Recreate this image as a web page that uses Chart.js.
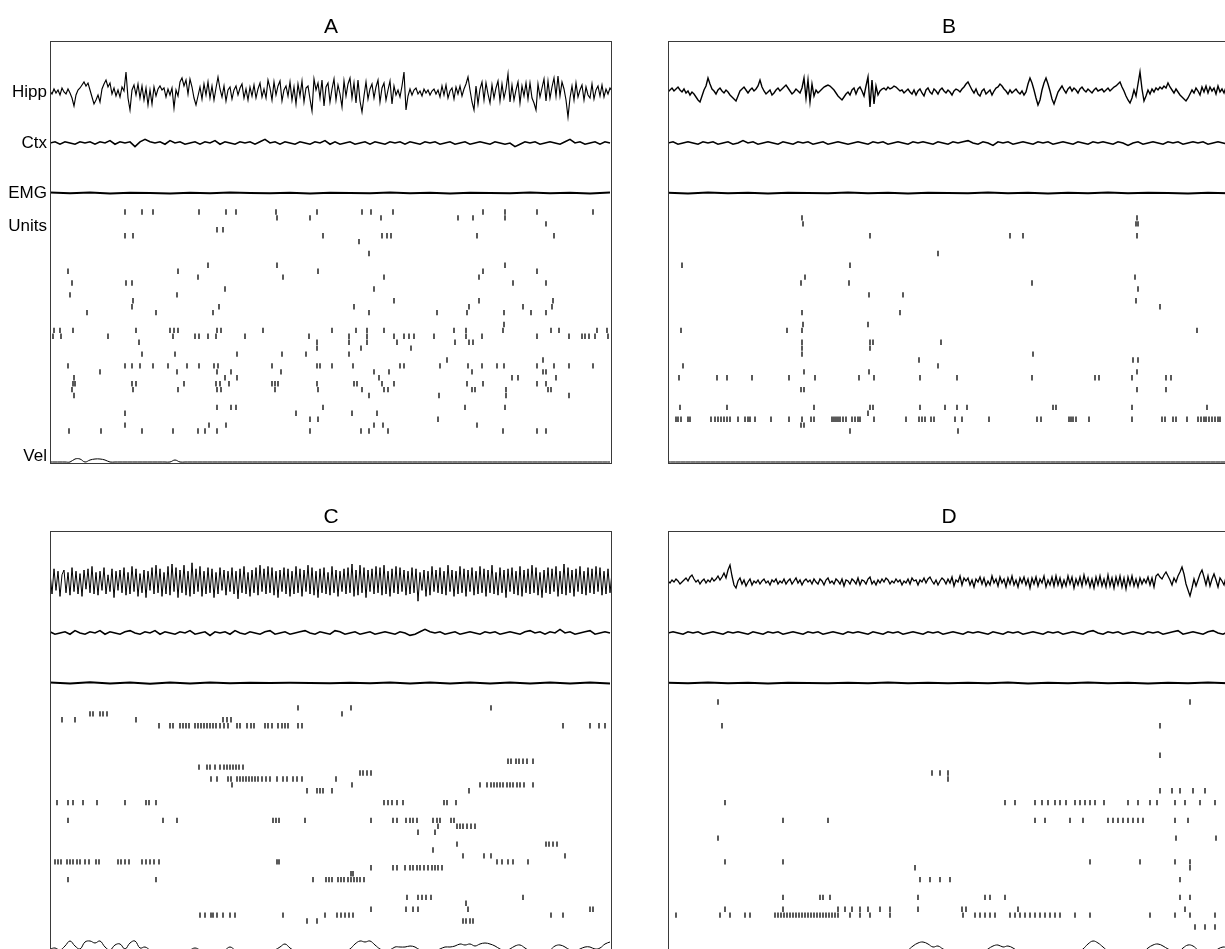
<!DOCTYPE html>
<html>
<head>
<meta charset="utf-8">
<script src="https://cdn.jsdelivr.net/npm/chart.js@4/dist/chart.umd.min.js"></script>
<style>
  html, body { margin: 0; background: #fff; }
  body { width: 1225px; height: 949px; position: relative; overflow: hidden; }
  canvas { position: absolute; }
</style>
</head>
<body>
<canvas id="panelA" width="613" height="465" style="left:0;top:0"></canvas>
<canvas id="panelB" width="613" height="465" style="left:618px;top:0"></canvas>
<canvas id="panelC" width="613" height="465" style="left:0;top:490px"></canvas>
<canvas id="panelD" width="613" height="465" style="left:618px;top:490px"></canvas>
<script>
// sampling of each channel inside the 5.62 s window (ms)
const WINDOW_MS = 5620;
const HIPP_STEP = 20;
const CTX_STEP = 50;
const EMG_STEP = 200;
const VEL_STEP = 50;

const channelNames = ['Hipp', 'Ctx', 'EMG', 'Units', 'Vel'];

// ---------- A ----------
const hippA = [
  1, -2, 3, -1, 2, -3, 4, 0, -2, 3, -1, -6, -14, -3, 2,
  4, 7, 10, 6, 9, 2, -5, -12, -8, -3, -10, 3, 8, 12, 5,
  9, -2, 4, -4, 2, -5, 5, 1, 20, -6, -18, 2, 7, -3, 8,
  -6, 6, -8, 4, -13, 2, -12, 5, -4, 3, 6, 2, 4, -5, 3,
  -3, 4, -16, 2, -4, 10, 14, 6, 12, -2, 13, 5, -6, -13, -4,
  5, -7, 8, -3, 10, -6, 6, -8, 4, 15, 3, -5, 6, -9, 2,
  5, -7, 2, 6, -3, 4, 8, -6, 3, -8, 5, -4, 7, -6, 3,
  9, -5, 3, -6, 12, 4, -8, 10, -3, 6, 11, -9, 2, 6, -4,
  10, -8, 5, -12, 8, -4, 11, -10, 4, 6, -7, -19, 13, 2, 9,
  -6, 12, -14, 5, 9, -10, 3, 13, -8, 7, -2, -15, 11, -4, 8,
  14, -6, 9, -11, 12, -9, -20, -4, 10, -7, 3, 8, -6, 5, 12,
  -10, 4, 9, -8, 2, 11, -12, 6, -3, 2, -5, 6, 20, -18, -4,
  3, -3, 2, 4, -2, 1, -4, 3, -1, 2, -3, 1, 3, -2, 2,
  -5, 6, -3, 7, -6, 1, 4, -7, 5, -2, 6, -4, 3, 8, 15,
  2, -10, -18, 6, -12, 3, 10, -8, 9, -2, -11, 7, -6, 4, 11,
  -9, 8, -6, 3, 18, -10, 7, -8, 2, 10, -11, 6, -4, 9, -7,
  9, -6, -11, -18, 8, -5, 4, 13, -9, 11, -6, 5, 14, -4, 16,
  -4, 10, 3, -8, -25, -6, 6, -8, 9, -5, 2, 7, -8, 5, -3,
  -6, 8, -7, 2, 6, -4, 7, -5, 3, -2, 4, 1
];
const ctxA = [
  0, 1, -1, 1, 0, -1, 1, 0, 1, -1,
  1, 0, 2, -1, 1, 0, 1, -3, 1, 3,
  1, 0, 1, -1, 2, 0, 1, -1, 0, 1,
  -1, 1, 0, 2, -1, 1, 0, -1, 1, 0,
  1, -1, 1, 3, 0, 1, -1, 1, 0, -1,
  1, 0, -1, 1, 0, 2, -1, 1, -1, 0,
  1, -1, 0, 1, -1, 1, 0, -1, 1, 0,
  1, -1, 1, 0, -1, 1, 0, 1, -1, 0,
  1, -1, 0, 1, -1, 0, 1, 0, -1, 1,
  0, -1, 0, -3, -1, 1, 0, 1, -1, 0,
  1, 0, -1, 1, 3, 0, 1, -1, 0, 1,
  -1, 1, 0
];
const emgA = [0.4, -0.3, 0.5, -0.4, 0.3, 0, -0.4, 0.3, -0.2, 0.4, 0, -0.3, 0.2, -0.4, 0.3,
  0, -0.3, 0.4, -0.2, 0.3, -0.4, 0.2, 0, -0.3, 0.4, -0.2, 0.3, -0.4, 0.5];
const velA = [
  0, 0, 0, 0, 0, 3, 3, 0, 2, 3, 3, 2, 0, 0, 0, 0, 0, 0, 0, 0,
  0, 0, 0, 0, 0, 2, 0, 0, 0, 0, 0, 0, 0, 0, 0, 0, 0, 0, 0, 0,
  0, 0, 0, 0, 0, 0, 0, 0, 0, 0, 0, 0, 0, 0, 0, 0, 0, 0, 0, 0,
  0, 0, 0, 0, 0, 0, 0, 0, 0, 0, 0, 0, 0, 0, 0, 0, 0, 0, 0, 0,
  0, 0, 0, 0, 0, 0, 0, 0, 0, 0, 0, 0, 0, 0, 0, 0, 0, 0, 0, 0,
  0, 0, 0, 0, 0, 0, 0, 0, 0, 0, 0, 0, 0
];
// spike times (ms) for each unit, top unit first
const unitsA = [
  [750, 920, 1030, 1490, 1760, 1860, 2260, 2670, 3120, 3210, 3430, 4330, 4550, 4870, 5430],
  [2270, 2600, 3310, 4080, 4230, 4550],
  [4960],
  [1670, 1730],
  [750, 830, 2730, 3320, 3370, 3410, 4270, 5040],
  [3090],
  [],
  [3190],
  [],
  [1580, 2270, 4550],
  [180, 1280, 2680, 4330, 4870],
  [1480, 2330, 3340, 4290],
  [220, 760, 820, 4630, 4960],
  [1750, 3240],
  [200, 1270],
  [830, 3440, 4290, 5030],
  [820, 1690, 3040, 4190, 4730, 5020],
  [370, 1060, 1630, 3190, 3870, 4170, 4540, 4810, 4960],
  [],
  [4540],
  [40, 100, 230, 860, 1200, 1240, 1280, 1670, 1710, 2130, 2820, 3060, 3170, 3340, 4040, 4160, 4530, 5010, 5090, 5470, 5570],
  [30, 110, 580, 1230, 1450, 1490, 1580, 1660, 1950, 2590, 2990, 3170, 3440, 3540, 3590, 3640, 3840, 4160, 4320, 4870, 5190, 5320, 5350, 5390, 5450, 5580],
  [890, 2670, 2990, 3170, 3470, 4050, 4190, 4230],
  [2670, 3110, 3610],
  [920, 1250, 1870, 2320, 2560, 2990],
  [3970, 4930],
  [180, 750, 820, 900, 1030, 1180, 1370, 1490, 1640, 1680, 2220, 2670, 2700, 2820, 3030, 3500, 3540, 3900, 4180, 4320, 4470, 4540, 4870, 5040, 5190, 5430],
  [500, 1270, 1670, 1810, 2310, 3240, 3390, 4220, 4930, 4960],
  [240, 1750, 1870, 3290, 4620, 4680, 5060],
  [230, 250, 820, 860, 1340, 1660, 1700, 1790, 2220, 2250, 2280, 2670, 3040, 3070, 3320, 3440, 4170, 4330, 4870, 4960],
  [220, 830, 1280, 1670, 1710, 2250, 2680, 3120, 3340, 3380, 4220, 4250, 4560, 4980, 5010],
  [240, 3190, 3890, 4560, 5190],
  [],
  [1670, 1810, 1860, 2730, 4150, 4550],
  [750, 2460, 3020, 3270],
  [2600, 2680, 3880],
  [750, 1590, 1760, 3240, 3330, 4270],
  [190, 510, 920, 1230, 1480, 1550, 1670, 2600, 3110, 3190, 3380, 4530, 4870, 4960]
];

// ---------- B ----------
const hippB = [
  0, 2, 4, 1, 3, 5, 2, 0, 3, -1, 1, -3, 0, -2, -5,
  -8, -10, -4, 2, 6, 14, 8, 3, 1, -2, 2, 4, 1, -1, 2,
  0, -3, -5, -7, -9, -4, 1, 3, 5, 2, -1, 2, 4, 1, 3,
  6, 12, 5, 1, -2, 0, 2, -3, -1, 2, 4, 1, 3, 5, 7,
  4, 1, -2, 0, 3, 1, -1, 4, 14, -6, 12, -10, 8, -4, 2,
  -1, 1, 3, 5, 6, 7, 6, 4, 2, -1, -4, -6, -8, -5, -2,
  0, -3, 2, 4, -2, 3, 5, 1, -4, 6, 15, -15, 12, -12, 6,
  -3, 1, 3, 4, 2, 5, 3, 4, 6, 5, 3, 1, 2, -1, 1,
  3, 0, -2, 2, -3, 1, 3, -1, -4, 2, 4, 0, -2, 3, 1,
  -2, 2, 4, 1, -1, 2, 0, -3, 1, 3, 2, 0, 3, 5, 8,
  10, 6, 2, -1, 3, -2, -4, 1, 3, -2, 0, 2, -3, 1, 4,
  5, 8, 6, 3, 1, -2, 2, -1, 1, 3, 0, -2, 1, -3, 0,
  8, 14, 9, 2, -6, -13, -8, 2, 9, 14, 8, 1, -7, -12, -6,
  0, 3, 6, 2, -1, 3, 5, 1, 4, 2, -1, 3, 5, 2, 0,
  3, 1, -1, 2, 4, 1, 2, 3, 0, 2, 4, 1, 3, 5, 6,
  8, 10, 5, 1, -4, -8, -11, -6, 2, -4, 8, 20, 3, -9, -4,
  2, -2, 3, 0, 4, 2, 5, 3, 6, 4, 9, 5, 2, -1, 3,
  0, -3, -5, -7, -9, -6, -2, 2, -1, 4, 1, -3, 5, 0, 6,
  -1, 5, 1, 4, -2, 6, 0, 3, -1, 5, 1, 2
];
const ctxB = [
  0, 1, -1, 0, 1, 0, -1, 1, 0, 1,
  -1, 0, 1, -1, 0, 2, 0, 1, -1, 0,
  1, 0, -1, 1, 0, -1, 1, 0, 1, -1,
  0, 1, -1, 0, 1, 0, -1, 0, 1, 0,
  -1, 1, 0, 1, -1, 0, 1, 0, -1, 1,
  0, 1, 0, -1, 1, 0, -1, 1, 0, 1,
  2, 0, -1, 1, 0, -2, 1, 0, 1, -1,
  0, 1, 0, -1, 1, 0, 1, -1, 0, 1,
  0, -1, 1, 0, -1, 1, 0, 1, 0, -1,
  1, 0, -2, 0, 1, -1, 0, 1, 0, -1,
  1, 0, 1, -1, 0, 1, 0, 1, -1, 0,
  1, 0, -1
];
const emgB = [0.3, -0.4, 0.4, -0.3, 0.2, -0.4, 0.3, 0, -0.3, 0.4, -0.2, 0.3, -0.4, 0.3, 0,
  -0.3, 0.4, -0.3, 0.2, -0.4, 0.3, -0.2, 0.4, -0.3, 0.2, 0, -0.4, 0.3, -0.2];
const velB = [
  0, 0, 0, 0, 0, 0, 0, 0, 0, 0, 0, 0, 0, 0, 0, 0, 0, 0, 0, 0,
  0, 0, 0, 0, 0, 0, 0, 0, 0, 0, 0, 0, 0, 0, 0, 0, 0, 0, 0, 0,
  0, 0, 0, 0, 0, 0, 0, 0, 0, 0, 0, 0, 0, 0, 0, 0, 0, 0, 0, 0,
  0, 0, 0, 0, 0, 0, 0, 0, 0, 0, 0, 0, 0, 0, 0, 0, 0, 0, 0, 0,
  0, 0, 0, 0, 0, 0, 0, 0, 0, 0, 0, 0, 0, 0, 0, 0, 0, 0, 0, 0,
  0, 0, 0, 0, 0, 0, 0, 0, 0, 0, 0, 0, 0
];
const unitsB = [
  [],
  [1340, 4690],
  [1350, 4680, 4700],
  [],
  [2020, 3420, 3550, 4690],
  [],
  [],
  [2700],
  [],
  [140, 1820],
  [],
  [1370, 4670],
  [1330, 1810, 3640],
  [4700],
  [2010, 2350],
  [4680],
  [4920],
  [1340, 2320],
  [],
  [1350, 2000],
  [130, 1190, 1340, 5290],
  [],
  [1340, 2020, 2050, 2730],
  [1340, 2020],
  [1340, 3650],
  [2510, 4650, 4700],
  [150, 2700],
  [1360, 2010, 4690],
  [110, 490, 590, 840, 1210, 1470, 1910, 2060, 2520, 2890, 3640, 4270, 4310, 4640, 4980, 5030],
  [],
  [1330, 1360, 4690, 4980],
  [],
  [],
  [120, 590, 1460, 2020, 2050, 2520, 2770, 2890, 2990, 3850, 3880, 4640, 5390],
  [2000],
  [80, 100, 130, 200, 220, 430, 470, 500, 530, 560, 590, 620, 700, 770, 800, 820, 870, 1030, 1210, 1340,
   1430, 1460, 1640, 1660, 1680, 1700, 1720, 1750, 1780, 1840, 1870, 1900, 1920, 2060, 2380, 2510, 2540,
   2570, 2630, 2660, 2870, 2940, 3210, 3690, 3730, 4010, 4030, 4050, 4080, 4210, 4640, 4940, 4970, 5050,
   5080, 5190, 5300, 5330, 5360, 5380, 5410, 5440, 5470, 5500, 5520],
  [1330, 1360],
  [1820, 2900]
];

// ---------- C ----------
const hippC = [
  8, -10, 11, -7, 9, -12, 6, 10, -9, 8, -11, 12, -8, 9, -10,
  7, -12, 10, -6, 11, -9, 13, -10, 8, -11, 9, -7, 12, -10, 6,
  -8, 11, -13, 9, -7, 10, -9, 12, -11, 8, -10, 13, -8, 11, -12,
  7, -9, 10, -13, 9, -7, 12, -10, 14, -9, 11, -12, 8, -10, 13,
  -11, 15, -8, 12, -13, 10, -9, 14, -11, 9, -12, 16, -10, 11, -8,
  13, -12, 9, -10, 12, -9, 11, -13, 8, -10, 12, -7, 10, -11, 9,
  -8, 12, -10, 9, -14, 11, -9, 13, -10, 8, -12, 10, -9, 12, -11,
  14, -8, 11, -10, 13, -9, 12, -11, 9, -13, 10, -8, 12, -10, 11,
  -12, 9, -10, 13, -9, 11, -12, 10, -8, 14, -10, 12, -11, 9, -13,
  11, -9, 12, -10, 8, -11, 13, -9, 10, -12, 9, -8, 11, -10, 12,
  -9, 15, -12, 10, -11, 14, -9, 12, -13, 10, -8, 11, -10, 13, -9,
  12, -11, 14, -10, 9, -12, 11, -9, 13, -10, 12, -8, 10, -11, 9,
  -10, 12, -9, 11, -16, 8, -7, 10, -12, 9, -11, 13, -8, 10, -9,
  12, -10, 9, -11, 14, -8, 10, -12, 9, -10, 13, -9, 11, -12, 10,
  -8, 12, -11, 9, -10, 13, -9, 11, -12, 10, -9, 14, -10, 8, -11,
  12, -9, 10, -13, 11, -8, 12, -10, 9, -11, 13, -12, 10, -9, 11,
  -10, 14, -9, 12, -11, 8, -13, 10, -9, 12, -10, 11, -8, 13, -12,
  9, -10, 15, -11, 12, -9, 10, -12, 11, -8, 13, -10, 9, -11, 12,
  -9, 11, -10, 13, -8, 12, -11, 9, -10, 11, -9, 8
];
const ctxC = [
  1, -1, 0, 1, -1, 2, 0, -1, 1, 0,
  2, -1, 1, 0, -1, 1, 2, 0, -1, 1,
  0, 2, -1, 1, 0, -1, 1, 0, 2, -1,
  0, 1, -2, 1, 0, 1, -1, 2, 0, -1,
  1, 0, -1, 1, 2, -1, 0, 1, -1, 0,
  1, 2, 0, -1, 1, 0, -1, 2, 1, -1,
  0, 1, -1, 0, 1, -1, 0, 1, 0, -1,
  1, 0, -2, -1, 1, 3, 1, 0, 1, -1,
  0, 1, -1, 0, 1, 0, -1, 1, 0, 1,
  -1, 0, 1, 0, -1, 1, 2, 0, 1, -1,
  1, 0, 3, 0, 1, -1, 0, 1, 2, -1,
  0, 1, 0
];
const emgC = [0.6, -0.5, 0.7, -0.6, 0.5, -0.7, 0.6, -0.4, 0.5, -0.3, 0.3, 0, 0.2, 0, -0.2,
  0.3, -0.3, 0.4, -0.4, 0.5, -0.4, 0.5, -0.5, 0.6, -0.5, 0.6, -0.4, 0.5, -0.5];
const velC = [
  3, 4, 2, 6, 11, 6, 3, 10, 11, 9,
  11, 5, 2, 7, 8, 3, 9, 11, 4, 5,
  2, 0, 0, 0, 0, 0, 0, 0, 2, 4,
  2, 0, 0, 0, 0, 2, 5, 2, 0, 0,
  0, 0, 0, 0, 0, 2, 5, 8, 4, 1,
  0, 0, 0, 0, 0, 0, 0, 0, 0, 1,
  3, 8, 11, 10, 11, 7, 3, 1, 2, 5,
  5, 5, 6, 5, 2, 1, 1, 1, 3, 5,
  5, 6, 8, 7, 8, 6, 8, 9, 8, 6,
  3, 1, 3, 6, 7, 4, 1, 1, 1, 1,
  2, 6, 7, 5, 2, 1, 3, 5, 5, 3,
  4, 8, 10
];
const unitsC = [
  [],
  [2480, 3010, 4410],
  [400, 430, 500, 530, 570, 2920],
  [120, 250, 860, 1730, 1770, 1810],
  [1090, 1200, 1230, 1300, 1330, 1360, 1390, 1450, 1480, 1510, 1540, 1570, 1600, 1630, 1660, 1700, 1740, 1780,
   1870, 1900, 1970, 2010, 2040, 2150, 2180, 2220, 2280, 2320, 2350, 2380, 2480, 2520, 5130, 5400, 5490, 5550],
  [], [], [], [], [],
  [4580, 4610, 4660, 4690, 4730, 4770, 4830],
  [1490, 1570, 1600, 1650, 1700, 1740, 1770, 1800, 1830, 1860, 1890, 1930],
  [3100, 3130, 3170, 3210],
  [1610, 1670, 1780, 1810, 1870, 1900, 1930, 1960, 1990, 2020, 2050, 2080, 2120, 2160, 2200, 2270, 2330, 2370, 2430, 2470, 2520, 2860],
  [1820, 3020, 4300, 4370, 4410, 4440, 4470, 4500, 4530, 4570, 4600, 4630, 4670, 4700, 4740, 4830],
  [2570, 2670, 2700, 2730, 2820, 4190],
  [],
  [70, 180, 230, 330, 470, 750, 960, 990, 1060, 3340, 3380, 3420, 3470, 3530, 3940, 3970, 4060],
  [], [],
  [180, 1130, 1270, 2230, 2260, 2290, 2550, 3210, 3430, 3470, 3560, 3600, 3630, 3670, 3830, 3870, 3900, 4010, 4040],
  [3880, 4070, 4100, 4130, 4170, 4210, 4250],
  [3680, 3850],
  [],
  [4070, 4960, 4990, 5030, 5070],
  [3830],
  [4130, 4340, 4410, 5150],
  [50, 80, 110, 170, 200, 230, 270, 300, 350, 390, 460, 490, 680, 710, 750, 790, 920, 960, 1000, 1040, 1090,
   2270, 2290, 4470, 4520, 4580, 4630, 4780],
  [3210, 3430, 3470, 3550, 3600, 3630, 3670, 3700, 3740, 3780, 3820, 3850, 3880, 3920],
  [3010, 3030],
  [180, 1060, 2630, 2760, 2790, 2820, 2880, 2910, 2940, 2980, 3010, 3040, 3070, 3100, 3140],
  [], [],
  [3570, 3680, 3720, 3760, 3810, 4730],
  [4160],
  [3210, 3560, 3630, 3680, 4180, 5400, 5430],
  [1500, 1550, 1610, 1630, 1670, 1730, 1800, 1850, 2330, 2750, 2870, 2910, 2950, 2990, 3030, 5010, 5130],
  [2570, 2670, 4130, 4160, 4200, 4230]
];

// ---------- D ----------
const hippD = [
  1, -1, 2, 0, 3, 1, -2, 0, 2, 4, 1, 5, 7, 3, 0,
  2, -2, 1, 3, -1, 2, 0, 4, 1, 3, 6, 2, 5, 9, 4,
  12, 17, 6, -3, -6, 1, 4, -2, 2, -4, 0, 3, -3, 1, -1,
  2, -2, 1, 3, -1, 1, -3, 2, 0, 3, -2, 1, -1, 3, -2,
  1, 3, -2, 1, 4, -1, 2, -3, 1, 3, 0, 2, -2, 3, 0,
  -2, 3, 1, -3, 2, 4, -1, 1, -2, 3, 1, -2, 3, -4, 2,
  1, -2, 3, 1, -2, 4, -3, 2, 1, -2, 3, 5, -2, 1, -3,
  2, -1, 3, 0, 4, 2, -2, 1, -1, 3, 0, 2, -3, 1, -1,
  3, -2, 4, 1, 2, -3, 2, 0, 4, -1, 3, 5, 1, -2, 2,
  -3, 1, 4, 2, -2, 3, -1, 5, -4, 2, 0, 6, -3, 4, 1,
  4, -3, 2, -5, 3, 0, 5, -2, 4, -4, 1, -3, 6, -1, 3,
  -4, 5, -1, 3, -5, 4, -2, 6, -3, 2, -5, 4, -1, 5, -3,
  3, -6, 4, -2, 5, -4, 3, -1, 6, -5, 2, -3, 5, -4, 6,
  -3, 4, -5, 2, -4, 6, -2, 5, -6, 3, -3, 5, -4, 7, -2,
  4, -5, 3, -6, 5, -3, 6, -4, 3, -5, 7, -4, 4, -6, 5,
  -3, 6, -5, 4, -7, 5, -3, 6, -4, 3, -5, 4, -2, 3, -1,
  5, -3, 4, -5, 6, 8, 5, 3, 7, 10, 6, 2, -3, 4, 0,
  6, 10, 15, 8, -2, -8, -14, -6, 3, -4, 2, 8, 12, 5, -3,
  6, -4, 3, 8, 2, -5, 4, 1, -3, 5, 2, 0
];
const ctxD = [
  0, 1, 0, -1, 1, 0, 1, -1, 0, 1,
  0, -1, 1, 0, 1, 0, -1, 1, 0, -1,
  1, 0, 1, -1, 0, 1, 0, -1, 1, 0,
  1, -1, 0, 1, 0, -1, 1, 0, 1, 0,
  -1, 1, 0, -1, 1, 0, 1, -1, 0, 1,
  0, -1, 1, 0, 1, -1, 0, 1, 0, -1,
  1, 0, 1, 0, -1, 1, 0, -1, 1, 0,
  1, -1, 0, 1, 0, -1, 1, 0, 1, -1,
  0, 1, 0, -1, 1, 2, 0, -1, 1, 0,
  1, -1, 0, 1, 0, -1, 1, 0, 1, -1,
  0, 1, 2, -1, 0, 1, 0, -1, 1, 2,
  0, -1, 1
];
const emgD = [0.3, -0.3, 0.4, -0.2, 0.3, -0.4, 0.2, 0, -0.3, 0.3, -0.2, 0.4, -0.3, 0.2, -0.3,
  0.3, -0.2, 0.4, -0.4, 0.3, -0.3, 0.4, -0.2, 0.3, -0.4, 0.3, -0.3, 0.4, -0.3];
const velD = [
  0, 0, 0, 0, 0, 0, 0, 0, 0, 0, 0, 0, 0, 0, 0, 0, 0, 0, 0, 0,
  0, 0, 0, 0, 0, 0, 0, 0, 0, 0, 0, 0, 0, 0, 0, 0, 0, 0, 0, 0,
  0, 0, 0, 0, 0, 0, 0, 0,
  2, 6, 9, 10, 8, 5, 6, 3, 1, 0, 0, 0,
  0, 0, 0, 0, 3, 6, 7, 5, 6, 4,
  1, 0, 0, 0, 0, 0, 0, 0, 0, 0,
  0, 0, 0, 3, 8, 11, 9, 5, 1, 0,
  0, 0, 0, 0, 0, 0, 4, 7, 8, 6,
  3, 1, 0, 4, 7, 6, 2, 0, 0, 0,
  3, 5, 4
];
const unitsD = [
  [500, 5220],
  [], [], [],
  [540, 4920],
  [], [], [], [],
  [4920],
  [], [],
  [2640, 2720, 2800],
  [2800],
  [],
  [4920, 5040, 5120, 5250, 5370],
  [],
  [570, 3370, 3470, 3670, 3740, 3800, 3870, 3920, 3980, 4070, 4120, 4170, 4220, 4270, 4360, 4600, 4700, 4820, 4890, 5070, 5170, 5320, 5470],
  [], [],
  [1150, 1600, 3670, 3770, 4020, 4150, 4400, 4450, 4500, 4550, 4600, 4650, 4700, 4750, 5070, 5200],
  [], [],
  [500, 5080, 5480],
  [], [], [],
  [570, 1150, 4220, 4720, 5070, 5220],
  [2470, 5220],
  [],
  [2520, 2620, 2720, 2820, 5120],
  [], [],
  [1150, 1520, 1550, 1620, 2500, 3170, 3220, 3370, 5120, 5220],
  [],
  [570, 1150, 1700, 1770, 1840, 1920, 2000, 2120, 2220, 2500, 2940, 2980, 3500, 5170],
  [80, 520, 620, 770, 820, 1070, 1100, 1130, 1160, 1190, 1220, 1250, 1280, 1310, 1340, 1370, 1400, 1430, 1460,
   1490, 1520, 1550, 1580, 1610, 1640, 1670, 1700, 1820, 1920, 2020, 2220, 2950, 3070, 3120, 3170, 3220, 3270,
   3420, 3470, 3520, 3570, 3620, 3670, 3720, 3770, 3820, 3870, 3920, 4070, 4220, 4820, 5070, 5220, 5470],
  [],
  [5270, 5370, 5470]
];

// vertical placement of the stacked channels (y axis runs top-down, 0..423)
const Y_MAX = 423;
const HIPP_BASE = 51;
const CTX_BASE = 102;
const EMG_BASE = 152;
const UNIT_TOP = 171;
const UNIT_GAP = 5.92;
const VEL_BASE = 421;
const LABEL_POS = [51, 102, 152, 185, 415];

const FONT = '"Liberation Sans", Arial, Helvetica, sans-serif';

function trace(values, step, base, gain, width, tension) {
  return {
    data: values.map((v, i) => ({ x: i * step, y: base - v * gain })),
    borderColor: '#000',
    borderWidth: width,
    pointRadius: 0,
    tension: tension || 0,
    fill: false
  };
}

function raster(rows) {
  const pts = [];
  rows.forEach((times, k) => {
    times.forEach(t => pts.push({ x: t, y: UNIT_TOP + k * UNIT_GAP }));
  });
  return {
    data: pts,
    showLine: false,
    pointStyle: 'line',
    pointRotation: 90,
    pointRadius: 2.7,
    pointBorderWidth: 1.3,
    pointBorderColor: '#000',
    borderColor: '#000'
  };
}

// box around each panel's plotting area
const framePlugin = {
  id: 'frame',
  afterDatasetsDraw(chart) {
    const { ctx, chartArea: a } = chart;
    ctx.save();
    ctx.strokeStyle = '#3a3a3a';
    ctx.lineWidth = 1;
    ctx.strokeRect(a.left + 0.5, a.top + 0.5, a.right - a.left - 1, a.bottom - a.top - 1);
    ctx.restore();
  }
};

function buildPanel(id, title, hipp, hippGain, hippWidth, ctxTrace, emg, vel, units, showLabels) {
  return new Chart(document.getElementById(id), {
    type: 'line',
    data: {
      datasets: [
        raster(units),
        trace(hipp, HIPP_STEP, HIPP_BASE, hippGain, hippWidth),
        trace(ctxTrace, CTX_STEP, CTX_BASE, 1.2, 1.6),
        trace(emg, EMG_STEP, EMG_BASE, 1, 2),
        trace(vel, VEL_STEP, VEL_BASE, 1, 1, 0.4)
      ]
    },
    options: {
      responsive: false,
      animation: false,
      events: [],
      layout: { autoPadding: false, padding: { left: 0, top: 0, right: 1, bottom: 1 } },
      scales: {
        x: { type: 'linear', min: 0, max: WINDOW_MS, display: false },
        y: {
          type: 'linear',
          min: 0,
          max: Y_MAX,
          reverse: true,
          grid: { display: false, drawTicks: false },
          border: { display: false },
          afterFit(scale) {
            scale.width = 50;
            scale.paddingTop = 0;
            scale.paddingBottom = 0;
          },
          afterBuildTicks(scale) { scale.ticks = LABEL_POS.map(v => ({ value: v })); },
          ticks: {
            display: showLabels,
            autoSkip: false,
            padding: 3,
            color: '#000',
            font: { family: FONT, size: 17 },
            callback: (value, index) => channelNames[index]
          }
        }
      },
      plugins: {
        legend: { display: false },
        tooltip: { enabled: false },
        title: {
          display: true,
          text: title,
          fullSize: false,
          color: '#000',
          font: { family: FONT, size: 21, weight: 'normal' },
          padding: { top: 14.5, bottom: 1.3 }
        }
      }
    },
    plugins: [framePlugin]
  });
}

buildPanel('panelA', 'A', hippA, 1, 1.15, ctxA, emgA, velA, unitsA, true);
buildPanel('panelB', 'B', hippB, 1, 1.4, ctxB, emgB, velB, unitsB, false);
buildPanel('panelC', 'C', hippC, 1.2, 1, ctxC, emgC, velC, unitsC, false);
buildPanel('panelD', 'D', hippD, 1, 1.3, ctxD, emgD, velD, unitsD, false);
</script>
</body>
</html>
